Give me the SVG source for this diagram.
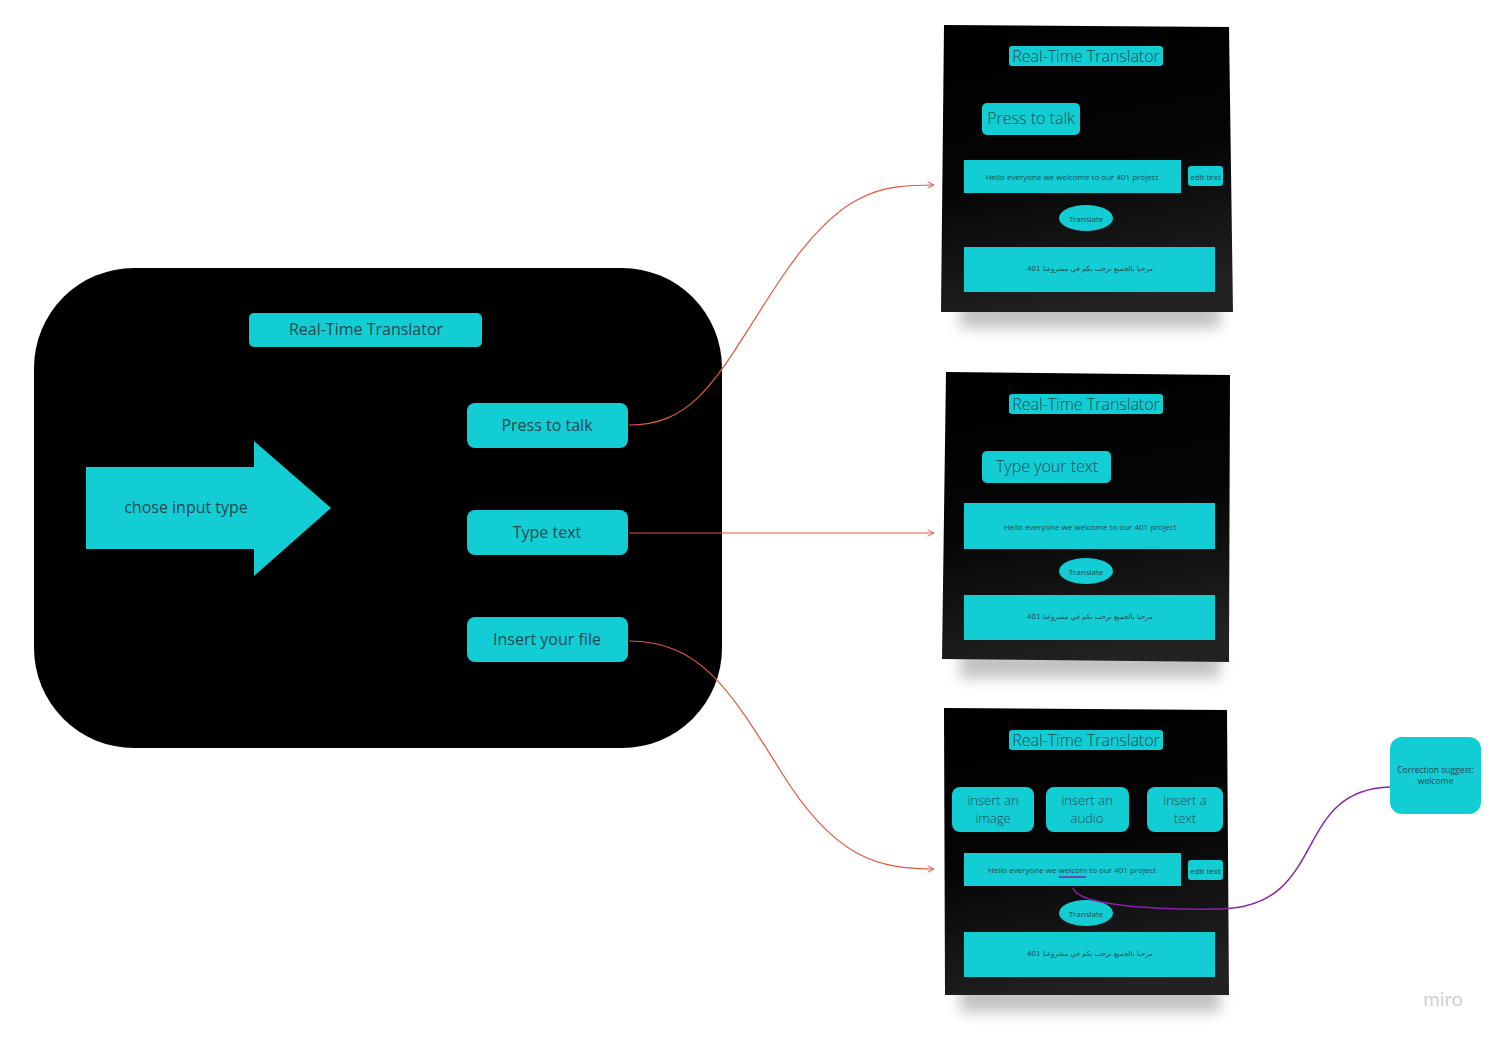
<svg xmlns="http://www.w3.org/2000/svg" width="1502" height="1040" viewBox="0 0 1502 1040">
  <style>
    .cy { fill: #13cdd4; }
    .t { font-family: "Open Sans", "Liberation Sans", sans-serif; fill: #1e4a50; text-anchor: middle; dominant-baseline: central; }
    .lt { font-weight: 300; }
    .ar { font-family: "DejaVu Sans", "Noto Sans", sans-serif; fill: #1e4a50; text-anchor: middle; dominant-baseline: central; font-size: 7px; }
    .link { fill: none; stroke: #e0573f; stroke-width: 1.2; }
  </style>
  <defs>
    <marker id="openArrow" viewBox="0 0 10 10" refX="9" refY="5" markerWidth="8" markerHeight="8" orient="auto" markerUnits="userSpaceOnUse">
      <path d="M1,1 L9,5 L1,9" fill="none" stroke="#e0573f" stroke-width="1.2"/>
    </marker>
    <linearGradient id="panelFill" x1="0.3" y1="0" x2="0.5" y2="1">
      <stop offset="0" stop-color="#000"/>
      <stop offset="0.5" stop-color="#050505"/>
      <stop offset="1" stop-color="#222"/>
    </linearGradient>
    <filter id="soft" x="-20%" y="-50%" width="140%" height="200%">
      <feGaussianBlur stdDeviation="7"/>
    </filter>
  </defs>

  <rect width="1502" height="1040" fill="#fff"/>

  <!-- main screen -->
  <g id="main-screen">
    <rect x="34" y="268" width="688" height="480" rx="100" fill="#000"/>
    <rect class="cy" x="249" y="313" width="233" height="34" rx="5"/>
    <text class="t" x="366" y="329" font-size="16">Real-Time Translator</text>
  </g>

  <g id="choose-arrow">
    <polygon class="cy" points="86,467 254,467 254,441 331,508 254,576 254,549 86,549"/>
    <text class="t" x="186" y="507" font-size="16">chose input type</text>
  </g>

  <g id="btn-press">
    <rect class="cy" x="467" y="403" width="161" height="45" rx="8"/>
    <text class="t" x="547" y="425" font-size="16">Press to talk</text>
  </g>
  <g id="btn-type">
    <rect class="cy" x="467" y="510" width="161" height="45" rx="8"/>
    <text class="t" x="547" y="532" font-size="16">Type text</text>
  </g>
  <g id="btn-file">
    <rect class="cy" x="467" y="617" width="161" height="45" rx="8"/>
    <text class="t" x="547" y="639" font-size="16">Insert your file</text>
  </g>

  <!-- panel 1: press to talk -->
  <g id="panel-talk">
    <rect x="960" y="300" width="260" height="28" fill="#999" opacity="0.6" filter="url(#soft)"/>
    <polygon points="944,25 1229,27 1233,312 941,312" fill="url(#panelFill)"/>
    <rect class="cy" x="1009" y="46" width="154" height="20" rx="3"/>
    <text class="t lt" x="1086" y="56" font-size="16">Real-Time Translator</text>
    <rect class="cy" x="982" y="103" width="98" height="32" rx="5"/>
    <text class="t lt" x="1031" y="118" font-size="16">Press to talk</text>
    <rect class="cy" x="964" y="160" width="217" height="33"/>
    <text class="t" x="1072" y="176" font-size="8">Hello everyone we welcome to our 401 project</text>
    <rect class="cy" x="1188" y="166" width="35" height="20" rx="3"/>
    <text class="t" x="1205.5" y="176" font-size="8">edit text</text>
    <ellipse class="cy" cx="1086" cy="218" rx="27" ry="13"/>
    <text class="t" x="1086" y="218" font-size="8">Translate</text>
    <rect class="cy" x="964" y="247" width="251" height="45"/>
    <text class="ar" x="1090" y="269" direction="rtl">مرحبا بالجميع نرحب بكم في مشروعنا 401</text>
  </g>

  <!-- panel 2: type text -->
  <g id="panel-type">
    <rect x="960" y="650" width="260" height="28" fill="#999" opacity="0.6" filter="url(#soft)"/>
    <polygon points="946,372 1230,375 1229,662 942,659" fill="url(#panelFill)"/>
    <rect class="cy" x="1009" y="394" width="154" height="20" rx="3"/>
    <text class="t lt" x="1086" y="404" font-size="16">Real-Time Translator</text>
    <rect class="cy" x="982" y="451" width="129" height="32" rx="5"/>
    <text class="t lt" x="1047" y="466" font-size="16">Type your text</text>
    <rect class="cy" x="964" y="503" width="251" height="46"/>
    <text class="t" x="1090" y="526" font-size="8">Hello everyone we welcome to our 401 project</text>
    <ellipse class="cy" cx="1086" cy="571" rx="27" ry="13"/>
    <text class="t" x="1086" y="571" font-size="8">Translate</text>
    <rect class="cy" x="964" y="595" width="251" height="45"/>
    <text class="ar" x="1090" y="617" direction="rtl">مرحبا بالجميع نرحب بكم في مشروعنا 401</text>
  </g>

  <!-- panel 3: insert file -->
  <g id="panel-file">
    <rect x="960" y="984" width="260" height="28" fill="#999" opacity="0.6" filter="url(#soft)"/>
    <polygon points="944,708 1227,710 1229,995 945,995" fill="url(#panelFill)"/>
    <rect class="cy" x="1009" y="730" width="154" height="20" rx="3"/>
    <text class="t lt" x="1086" y="740" font-size="16">Real-Time Translator</text>
    <rect class="cy" x="952" y="787" width="82" height="45" rx="8"/>
    <text class="t lt" x="993" y="800" font-size="13">insert an</text>
    <text class="t lt" x="993" y="818" font-size="13">image</text>
    <rect class="cy" x="1046" y="787" width="83" height="45" rx="8"/>
    <text class="t lt" x="1087" y="800" font-size="13">insert an</text>
    <text class="t lt" x="1087" y="818" font-size="13">audio</text>
    <rect class="cy" x="1147" y="787" width="76" height="45" rx="8"/>
    <text class="t lt" x="1185" y="800" font-size="13">insert a</text>
    <text class="t lt" x="1185" y="818" font-size="13">text</text>
    <rect class="cy" x="964" y="853" width="217" height="33"/>
    <text class="t" x="1072" y="869" font-size="8">Hello everyone we welcom to our 401 project</text>
    <line x1="1059" y1="877" x2="1086" y2="877" stroke="#7a1fb0" stroke-width="1.5"/>
    <rect class="cy" x="1188" y="860" width="35" height="20" rx="3"/>
    <text class="t" x="1205.5" y="870" font-size="8">edit text</text>
    <ellipse class="cy" cx="1086" cy="913" rx="27" ry="13"/>
    <text class="t" x="1086" y="913" font-size="8">Translate</text>
    <rect class="cy" x="964" y="932" width="251" height="45"/>
    <text class="ar" x="1090" y="954" direction="rtl">مرحبا بالجميع نرحب بكم في مشروعنا 401</text>
  </g>

  <g id="correction-note">
    <rect class="cy" x="1390" y="737" width="91" height="77" rx="12"/>
    <text class="t" x="1435.5" y="769" font-size="8.5">Correction suggest:</text>
    <text class="t" x="1435.5" y="780" font-size="8.5">welcome</text>
  </g>

  <g id="connectors">
    <path class="link" d="M629,425 C700,425 720,370 780,280 C840,190 880,185 934,185" marker-end="url(#openArrow)"/>
    <path class="link" d="M629,533 L934,533" marker-end="url(#openArrow)"/>
    <path class="link" d="M629,641 C700,641 730,690 780,770 C835,860 880,869 934,869" marker-end="url(#openArrow)"/>
    <path d="M1073,888 C1078,905 1150,910 1220,909 C1330,907 1290,790 1390,787" fill="none" stroke="#8a1fb0" stroke-width="1.5"/>
  </g>

  <text x="1443" y="998" font-family="Lato, 'Open Sans', sans-serif" font-size="20" fill="#cfcfd8" text-anchor="middle" dominant-baseline="central">miro</text>
</svg>
